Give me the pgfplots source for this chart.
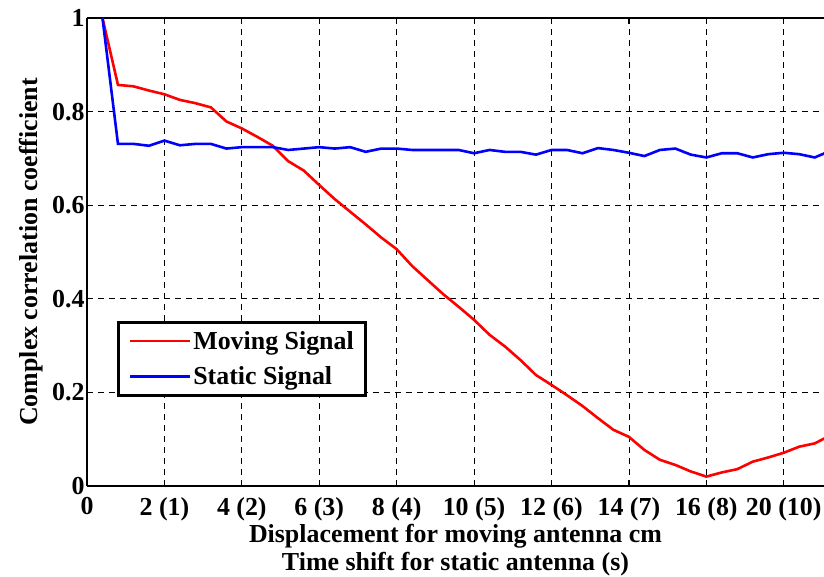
\documentclass[border=0pt]{standalone}
\usepackage{fontspec}
\setmainfont{Liberation Serif}
\usepackage{pgfplots}
\pgfplotsset{compat=1.18}
\usetikzlibrary{calc}

\newcommand{\lblfont}{\fontsize{26}{29}\selectfont\bfseries}

\begin{document}
\begin{tikzpicture}
\begin{axis}[
  scale only axis,
  width=737bp, height=468bp,
  xmin=0, xmax=9.52, ymin=0, ymax=1,
  axis x line=box, axis y line=left,
  axis line style={line width=2.6bp, -},
  tick align=inside, major tick length=6bp,
  tick style={black, line width=1bp},
  grid=major,
  grid style={black, line width=0.8bp, dash pattern=on 6bp off 5bp},
  xtick={0,1,2,3,4,5,6,7,8,9},
  xticklabels={0,2 (1),4 (2),6 (3),8 (4),10 (5),12 (6),14 (7),16 (8),20 (10)},
  ytick={0,0.2,0.4,0.6,0.8,1},
  yticklabels={0,0.2,0.4,0.6,0.8,1},
  tick label style={font=\lblfont},
  xticklabel style={yshift=-8bp},
  yticklabel style={xshift=1bp},
  xlabel={Displacement for moving antenna cm\\Time shift for static antenna (s)},
  xlabel style={align=center, font=\lblfont, yshift=4bp},
  ylabel={Complex correlation coefficient},
  ylabel style={font=\lblfont, yshift=2bp},
  legend style={at={(rel axis cs:0.041,0.353)}, anchor=north west,
    draw=black, line width=3bp, font=\lblfont,
    inner xsep=10bp, inner ysep=7bp, row sep=12bp},
  legend cell align=left,
  legend image code/.code={\draw[#1, line width=2.6bp] (0bp,0bp) -- (60bp,0bp);},
]
\addplot[red, line width=2.6bp] coordinates {
 (0.2,1.000) (0.4,0.857) (0.6,0.854) (0.8,0.845) (1.0,0.837)
 (1.2,0.825) (1.4,0.818) (1.6,0.809) (1.8,0.779) (2.0,0.764)
 (2.2,0.746) (2.4,0.727) (2.6,0.694) (2.8,0.674) (3.0,0.643)
 (3.2,0.613) (3.4,0.586) (3.6,0.559) (3.8,0.531) (4.0,0.506)
 (4.2,0.470) (4.4,0.440) (4.6,0.410) (4.8,0.383) (5.0,0.355)
 (5.2,0.323) (5.4,0.298) (5.6,0.269) (5.8,0.237) (6.0,0.216)
 (6.2,0.194) (6.4,0.171) (6.6,0.145) (6.8,0.120) (7.0,0.105)
 (7.2,0.077) (7.4,0.056) (7.6,0.045) (7.8,0.031) (8.0,0.020)
 (8.2,0.029) (8.4,0.036) (8.6,0.052) (8.8,0.061) (9.0,0.071)
 (9.2,0.084) (9.4,0.091) (9.6,0.108)
};
\addlegendentry{Moving Signal}
\addplot[blue, line width=2.6bp] coordinates {
 (0.2,1.000) (0.4,0.731) (0.6,0.731) (0.8,0.727) (1.0,0.738)
 (1.2,0.728) (1.4,0.731) (1.6,0.731) (1.8,0.721) (2.0,0.724)
 (2.2,0.724) (2.4,0.724) (2.6,0.718) (2.8,0.721) (3.0,0.724)
 (3.2,0.721) (3.4,0.724) (3.6,0.714) (3.8,0.721) (4.0,0.721)
 (4.2,0.718) (4.4,0.718) (4.6,0.718) (4.8,0.718) (5.0,0.711)
 (5.2,0.718) (5.4,0.714) (5.6,0.714) (5.8,0.708) (6.0,0.718)
 (6.2,0.718) (6.4,0.711) (6.6,0.722) (6.8,0.718) (7.0,0.712)
 (7.2,0.705) (7.4,0.718) (7.6,0.721) (7.8,0.708) (8.0,0.702)
 (8.2,0.711) (8.4,0.711) (8.6,0.702) (8.8,0.709) (9.0,0.712)
 (9.2,0.709) (9.4,0.702) (9.6,0.716)
};
\addlegendentry{Static Signal}
\end{axis}
\pgfresetboundingbox
\useasboundingbox ($(current axis.south west)+(-87bp,-91bp)$)
  rectangle ($(current axis.north east)+(0bp,18bp)$);
\end{tikzpicture}
\end{document}
